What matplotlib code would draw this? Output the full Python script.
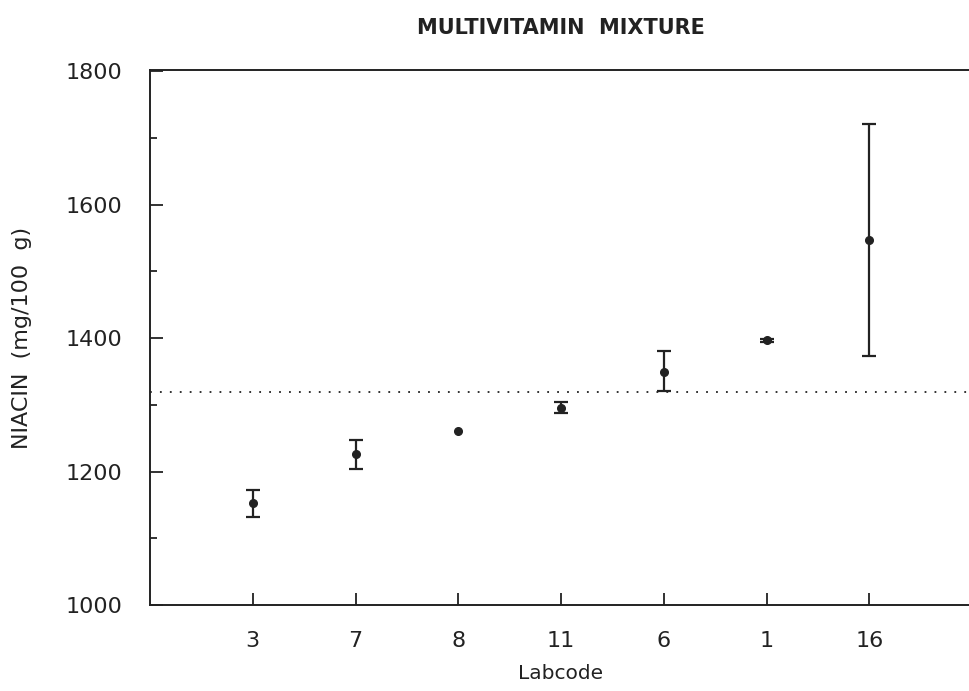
import matplotlib
matplotlib.use("Agg")
import matplotlib.pyplot as plt
from matplotlib.ticker import MultipleLocator

# Niacin results per laboratory, sorted by mean
labcodes = ["3", "7", "8", "11", "6", "1", "16"]
means = [1153, 1226, 1261, 1296, 1350, 1397, 1547]
lower = [1132, 1204, 1261, 1288, 1321, 1395, 1373]
upper = [1172, 1248, 1261, 1305, 1381, 1399, 1721]
consensus = 1320

plt.rcParams["font.family"] = "DejaVu Sans"
ink = "#222222"

fig = plt.figure(figsize=(9.69, 6.91), dpi=100)
ax = fig.add_axes([150 / 969, 86 / 691, 822 / 969, 535 / 691])

x = list(range(1, len(labcodes) + 1))

# range bars only for labs that reported a spread
for xi, m, lo, hi in zip(x, means, lower, upper):
    if hi > lo:
        ax.errorbar([xi], [m], yerr=[[m - lo], [hi - m]], fmt="none",
                    ecolor=ink, elinewidth=1.6, capsize=5, capthick=1.6)
ax.plot(x, means, "o", color=ink, ms=5.5)
ax.axhline(consensus, color=ink, lw=1.3, ls=(0, (1, 4.5)))

ax.set_xlim(0, 8)
ax.set_ylim(1000, 1802)
ax.set_xticks(x)
ax.set_xticklabels(labcodes)
ax.yaxis.set_major_locator(MultipleLocator(200))
ax.yaxis.set_minor_locator(MultipleLocator(100))
ax.tick_params(direction="in", length=9, width=1.3, colors=ink,
               labelsize=16, pad=20)
ax.tick_params(axis="y", which="minor", direction="in", length=5, width=1.3,
               colors=ink)
ax.tick_params(axis="x", pad=19)
for sp in ax.spines.values():
    sp.set_linewidth(1.4)
    sp.set_color(ink)

ax.set_xlabel("Labcode", fontsize=14.5, color=ink, labelpad=9)
ax.set_ylabel("NIACIN  (mg/100  g)", fontsize=16, color=ink, labelpad=24)
ax.set_title("MULTIVITAMIN  MIXTURE", fontsize=15, fontweight="bold",
             color=ink, pad=26)

fig.savefig("out.png", dpi=100)
